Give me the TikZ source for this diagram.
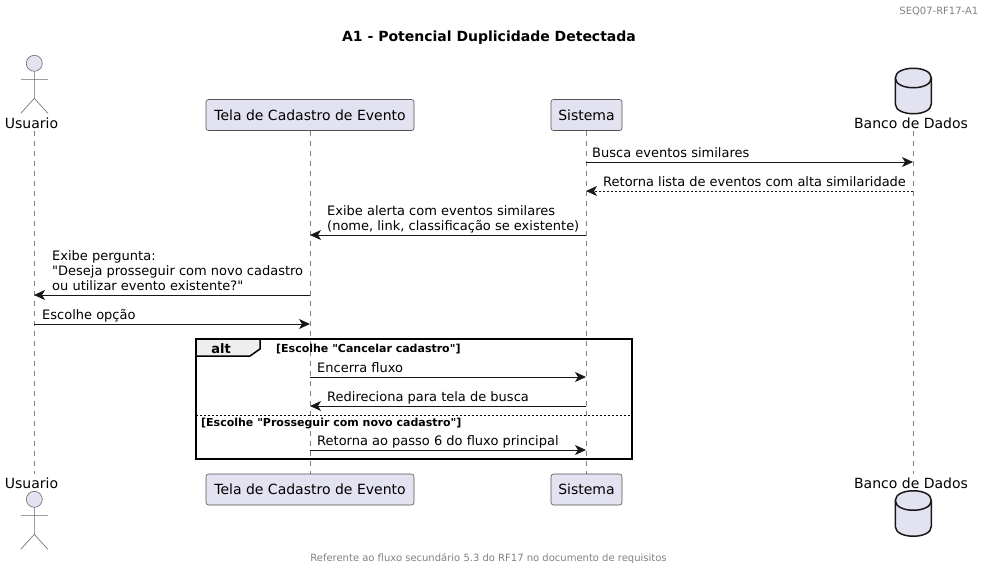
\documentclass[tikz,border=0pt]{standalone}
\usepackage{fontspec}
\setmainfont{DejaVu Sans}[Ligatures=TeXOff]
\usetikzlibrary{arrows.meta}
\definecolor{partfill}{HTML}{E2E2F0}
\definecolor{partline}{HTML}{181818}
\definecolor{tabfill}{HTML}{EEEEEE}
\tikzset{
    part/.style={draw=partline!75,line width=0.6pt,fill=partfill,rounded corners=2.5pt,minimum height=31pt,inner sep=0pt,font=\fontsize{14}{16}\selectfont},
    actorname/.style={inner sep=0pt,font=\fontsize{14}{16}\selectfont},
    msgtext/.style={anchor=south west,align=left,inner sep=0pt,text depth=3pt,font=\fontsize{13}{15}\selectfont},
    guardtext/.style={anchor=base west,inner sep=0pt,font=\fontsize{11}{12}\selectfont\bfseries},
    grayline/.style={anchor=base,inner sep=0pt,text=gray,font=\fontsize{10}{12}\selectfont},
    msg/.style={-{Stealth[length=11pt,width=10pt,inset=3pt]},line width=1pt,color=partline},
    lifeline/.style={draw=gray,line width=0.6pt,dash pattern=on 5pt off 5pt},
    stick/.style={draw=partline!65,line width=0.6pt},
    dbbody/.style={draw=partline,line width=1.5pt,fill=partfill},
}
\newcommand{\stickman}[2]{
    \draw[stick,fill=partfill] (#1,#2) circle (8);
    \draw[stick] (#1,#2+8) -- +(0,27) (#1-13.5,#2+16) -- +(27,0)
        (#1-13.5,#2+50) -- (#1,#2+35) -- (#1+13.5,#2+50);
}
\newcommand{\cylinder}[2]{
    \draw[dbbody] (#1-18,#2+10) .. controls (#1-18,#2-3) and (#1+18,#2-3) .. (#1+18,#2+10)
        -- (#1+18,#2+36) .. controls (#1+18,#2+49) and (#1-18,#2+49) .. (#1-18,#2+36) -- cycle;
    \draw[dbbody,fill=none] (#1-18,#2+10) .. controls (#1-18,#2+23) and (#1+18,#2+23) .. (#1+18,#2+10);
}
\begin{document}
\begin{tikzpicture}[x=1pt,y=-1pt]
    \useasboundingbox (0,0) rectangle (984,570);
    \node[anchor=base east,inner sep=0pt,text=gray,font=\fontsize{10}{12}\selectfont] (header) at (978.5,14) {SEQ07-RF17-A1};
    \node[anchor=base,inner sep=0pt,font=\fontsize{14}{16}\selectfont\bfseries] (title) at (489,41) {A1 - Potencial Duplicidade Detectada};
    \node[grayline] (footer) at (488.5,561) {Referente ao fluxo secundário 5.3 do RF17 no documento de requisitos};

    \coordinate (u0) at (34,131);
    \coordinate (u1) at (34,474);
    \coordinate (t0) at (310,131);
    \coordinate (t1) at (310,474);
    \coordinate (s0) at (586,131);
    \coordinate (s1) at (586,474);
    \coordinate (b0) at (913,131);
    \coordinate (b1) at (913,474);
    \foreach \l in {u,t,s,b} \draw[lifeline] (\l0) -- (\l1);

    \stickman{34.3}{63.3}
    \node[actorname,anchor=base] (usuario) at (31.5,128) {Usuario};
    \node[part,minimum width=208pt] (tela) at (310,115) {Tela de Cadastro de Evento};
    \node[part,minimum width=71pt] (sistema) at (586.5,115) {Sistema};
    \cylinder{913.3}{68}
    \node[actorname,anchor=base] (banco) at (911,128) {Banco de Dados};

    \stickman{34.3}{499.3}
    \node[actorname,anchor=base] (usuario2) at (31.5,488) {Usuario};
    \node[part,minimum width=208pt] (tela2) at (310,489.5) {Tela de Cadastro de Evento};
    \node[part,minimum width=71pt] (sistema2) at (586.5,489.5) {Sistema};
    \cylinder{913.3}{490.5}
    \node[actorname,anchor=base] (banco2) at (911,488) {Banco de Dados};

    \coordinate (a0) at (586,162);
    \coordinate (a1) at (913,162);
    \coordinate (c0) at (913,191);
    \coordinate (c1) at (586,191);
    \coordinate (d0) at (586,235);
    \coordinate (d1) at (310,235);
    \coordinate (e0) at (310,295);
    \coordinate (e1) at (34,295);
    \coordinate (f0) at (34,324);
    \coordinate (f1) at (310,324);
    \coordinate (g0) at (310,377);
    \coordinate (g1) at (586,377);
    \coordinate (h0) at (586,406);
    \coordinate (h1) at (310,406);
    \coordinate (i0) at (310,450);
    \coordinate (i1) at (586,450);

    \draw[msg] (a0) -- (a1);
    \draw[msg,dash pattern=on 2pt off 2pt] (c0) -- (c1);
    \foreach \m in {d,e,f,g,h,i} \draw[msg] (\m0) -- (\m1);

    \node[msgtext] (la) at (592,161) {Busca eventos similares};
    \node[msgtext] (lc) at (603,190) {Retorna lista de eventos com alta similaridade};
    \node[msgtext] (ld) at (327,234) {Exibe alerta com eventos similares\\(nome, link, classificação se existente)};
    \node[msgtext] (le) at (52,294) {Exibe pergunta:\\"Deseja prosseguir com novo cadastro\\ou utilizar evento existente?"};
    \node[msgtext] (lf) at (42,323) {Escolhe opção};
    \node[msgtext] (lg) at (317,376) {Encerra fluxo};
    \node[msgtext] (lh) at (327,405) {Redireciona para tela de busca};
    \node[msgtext] (li) at (317,449) {Retorna ao passo 6 do fluxo principal};

    \draw[line width=1.5pt,draw=black,fill=tabfill] (196,339) -- (260,339) -- (260,349) -- (250,356) -- (196,356) -- cycle;
    \draw[line width=1.5pt,draw=black] (196,339) rectangle (632,459);
    \draw[line width=1pt,dash pattern=on 2pt off 2pt] (196,415) -- (632,415);
    \node[anchor=base,inner sep=0pt,font=\fontsize{13}{15}\selectfont\bfseries] (alt) at (221,353) {alt};
    \node[guardtext] (g1label) at (276,352) {[Escolhe "Cancelar cadastro"]};
    \node[guardtext] (g2label) at (201,426) {[Escolhe "Prosseguir com novo cadastro"]};
\end{tikzpicture}
\end{document}
